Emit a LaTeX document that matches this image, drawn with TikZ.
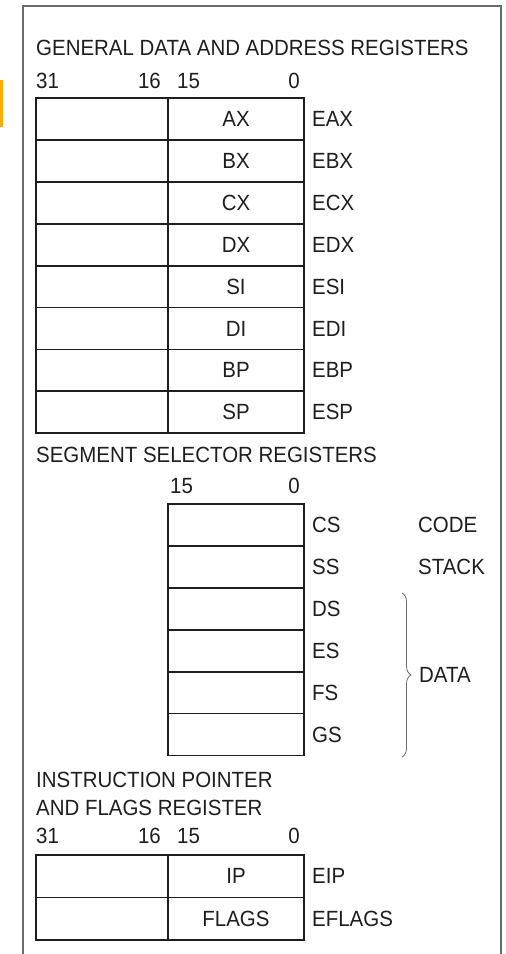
\documentclass[tikz,border=0pt]{standalone}
\usepackage{fontspec}
\setmainfont{Liberation Sans}[FakeStretch=0.93]
\usetikzlibrary{positioning,decorations.pathreplacing}
\definecolor{ink}{HTML}{1E1E1E}
\definecolor{rim}{HTML}{6A6A6A}
\definecolor{amber}{HTML}{F2B100}
\newcommand{\regfont}{\fontsize{22}{26}\selectfont}

\begin{document}
\begin{tikzpicture}[x=1pt,y=-1pt,
hi/.style={draw=ink,line width=1.8pt,minimum width=132pt,minimum height=41.9pt,inner sep=0pt,outer sep=0pt},
lo/.style={hi,minimum width=136pt,text=ink,font=\regfont},
regname/.style={anchor=west,inner sep=0pt,text=ink,font=\regfont},
caption/.style={anchor=base west,inner sep=0pt,text=ink,font=\regfont},
bitno/.style={inner sep=0pt,text=ink,font=\regfont},
brace/.style={decorate,decoration={brace,amplitude=9pt},draw=rim,line width=0.8pt}]

\useasboundingbox (0,0) rectangle (506,954);
\fill[white] (0,0) rectangle (506,954);
\fill[amber] (0,80) rectangle (3,127);
\draw[rim,line width=1.6pt] (23,954) -- (23,6) -- (501,6) -- (501,954);

% general data and address registers
\node[caption] (gtitle) at (36,55) {GENERAL DATA AND ADDRESS REGISTERS};
\node[bitno,anchor=base west] (g31) at (36,88) {31};
\node[bitno,anchor=base east] (g16) at (161,88) {16};
\node[bitno,anchor=base west] (g15) at (177,88) {15};
\node[bitno,anchor=base east] (g0) at (300,88) {0};

\node[hi,anchor=north west] (eaxh) at (36,98) {};
\node[lo,right=0pt of eaxh] (eaxl) {AX};
\node[regname,right=8pt of eaxl] (eax) {EAX};
\node[hi,below=0pt of eaxh] (ebxh) {};
\node[lo,right=0pt of ebxh] (ebxl) {BX};
\node[regname,right=8pt of ebxl] (ebx) {EBX};
\node[hi,below=0pt of ebxh] (ecxh) {};
\node[lo,right=0pt of ecxh] (ecxl) {CX};
\node[regname,right=8pt of ecxl] (ecx) {ECX};
\node[hi,below=0pt of ecxh] (edxh) {};
\node[lo,right=0pt of edxh] (edxl) {DX};
\node[regname,right=8pt of edxl] (edx) {EDX};
\node[hi,below=0pt of edxh] (esih) {};
\node[lo,right=0pt of esih] (esil) {SI};
\node[regname,right=8pt of esil] (esi) {ESI};
\node[hi,below=0pt of esih] (edih) {};
\node[lo,right=0pt of edih] (edil) {DI};
\node[regname,right=8pt of edil] (edi) {EDI};
\node[hi,below=0pt of edih] (ebph) {};
\node[lo,right=0pt of ebph] (ebpl) {BP};
\node[regname,right=8pt of ebpl] (ebp) {EBP};
\node[hi,below=0pt of ebph] (esph) {};
\node[lo,right=0pt of esph] (espl) {SP};
\node[regname,right=8pt of espl] (esp) {ESP};

% segment selector registers
\node[caption] (stitle) at (36,462) {SEGMENT SELECTOR REGISTERS};
\node[bitno,anchor=base west] (s15) at (170,493) {15};
\node[bitno,anchor=base east] (s0) at (300,493) {0};

\node[lo,anchor=north west] (csl) at (168,504) {};
\node[regname,right=8pt of csl] (cs) {CS};
\node[lo,below=0pt of csl] (ssl) {};
\node[regname,right=8pt of ssl] (ss) {SS};
\node[lo,below=0pt of ssl] (dsl) {};
\node[regname,right=8pt of dsl] (ds) {DS};
\node[lo,below=0pt of dsl] (esl) {};
\node[regname,right=8pt of esl] (es) {ES};
\node[lo,below=0pt of esl] (fsl) {};
\node[regname,right=8pt of fsl] (fs) {FS};
\node[lo,below=0pt of fsl] (gsl) {};
\node[regname,right=8pt of gsl] (gs) {GS};

\node[regname] (code) at (418,525) {CODE};
\node[regname] (stack) at (418,567) {STACK};
\coordinate (btop) at (402,593);
\coordinate (bbot) at (402,757);
\draw[brace] (btop) -- (bbot);
\node[regname] (data) at (419,675) {DATA};

% instruction pointer and flags
\node[caption] (ititle) at (36,787) {INSTRUCTION POINTER};
\node[caption] (ititle2) at (36,815) {AND FLAGS REGISTER};
\node[bitno,anchor=base west] (i31) at (36,843) {31};
\node[bitno,anchor=base east] (i16) at (161,843) {16};
\node[bitno,anchor=base west] (i15) at (177,843) {15};
\node[bitno,anchor=base east] (i0) at (300,843) {0};

\node[hi,anchor=north west,minimum height=42.5pt] (eiph) at (36,855) {};
\node[lo,right=0pt of eiph,minimum height=42.5pt] (eipl) {IP};
\node[regname,right=8pt of eipl] (eip) {EIP};
\node[hi,below=0pt of eiph,minimum height=42.5pt] (eflh) {};
\node[lo,right=0pt of eflh,minimum height=42.5pt] (efll) {FLAGS};
\node[regname,right=8pt of efll] (efl) {EFLAGS};
\end{tikzpicture}
\end{document}
